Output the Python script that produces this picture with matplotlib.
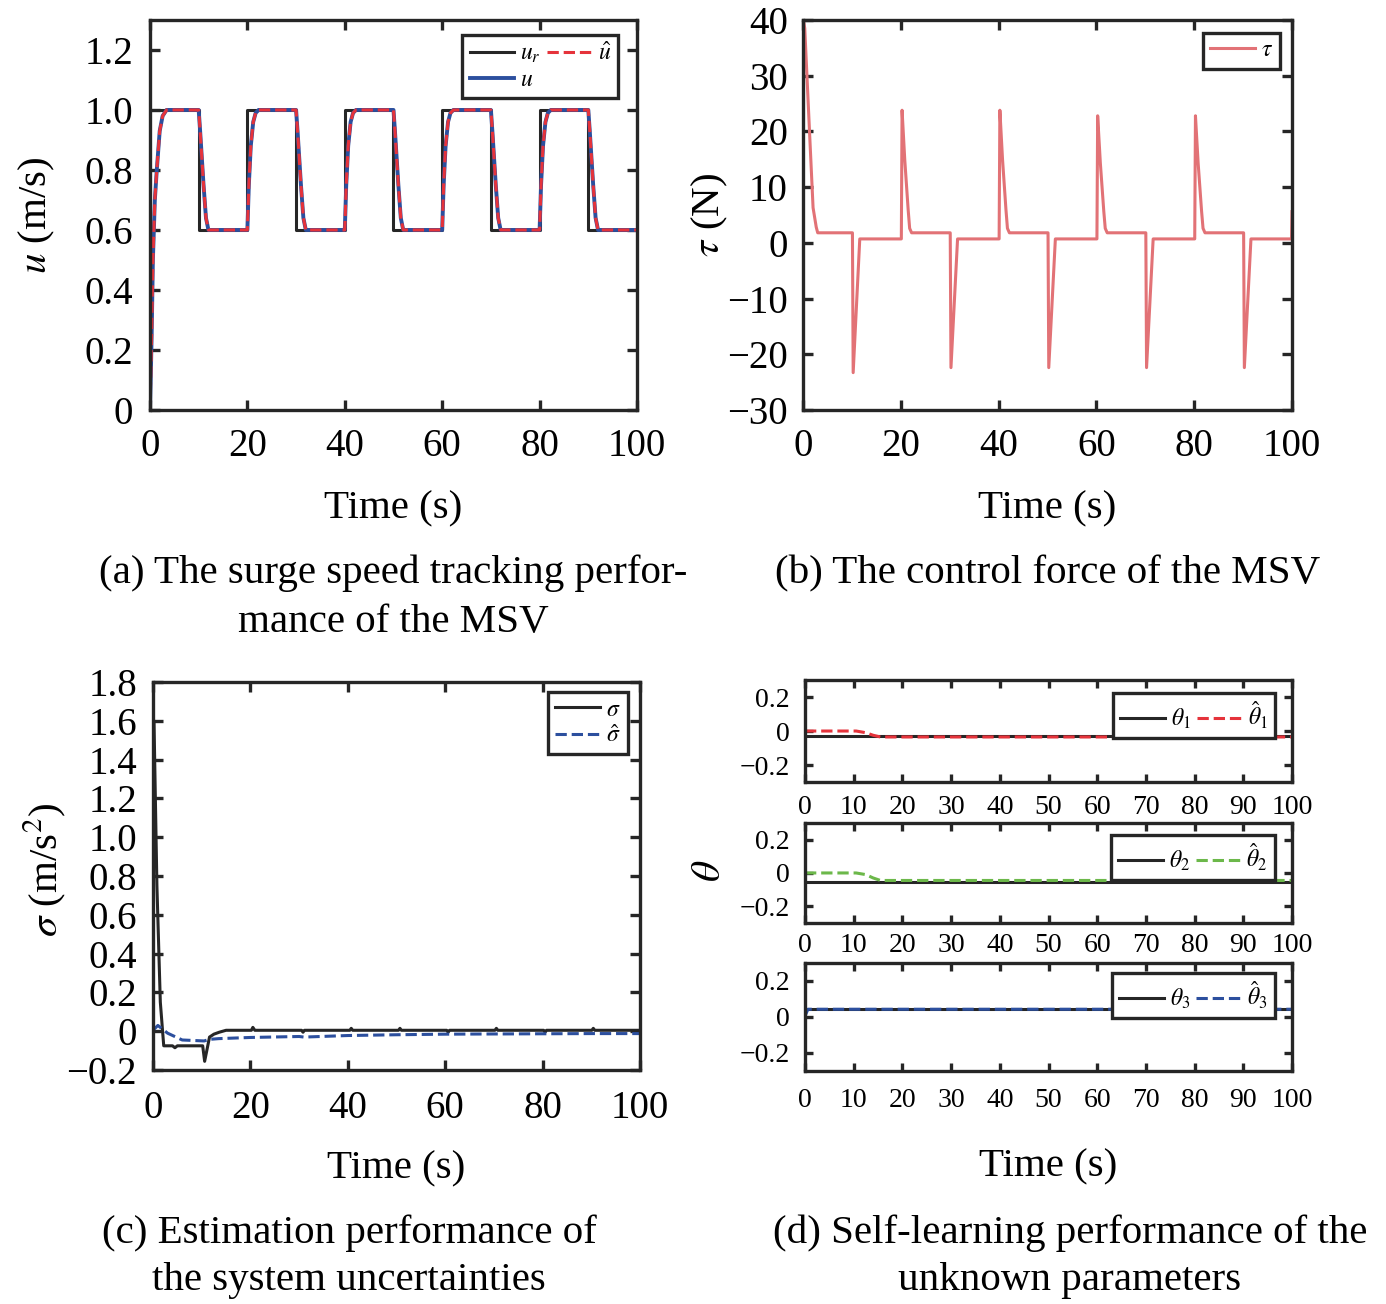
import matplotlib
matplotlib.use('Agg')
import matplotlib.pyplot as plt
from matplotlib.ticker import FuncFormatter, MultipleLocator

plt.rcParams['font.family'] = ['Liberation Serif', 'DejaVu Serif']
plt.rcParams['mathtext.fontset'] = 'stix'

BLACK = '#262626'
BLUE = '#2c4f9e'
RED = '#e5333b'
PINK = '#e27276'
GREEN = '#6cb84a'

# (a) surge speed
t_ur = [0, 10, 10, 20, 20, 30, 30, 40, 40, 50, 50, 60, 60, 70, 70, 80, 80, 90, 90, 100]
u_ref = [1.0, 1.0, 0.6, 0.6, 1.0, 1.0, 0.6, 0.6, 1.0, 1.0,
         0.6, 0.6, 1.0, 1.0, 0.6, 0.6, 1.0, 1.0, 0.6, 0.6]
t_u = [0, 0.15, 0.35, 0.6, 1.0, 1.4, 2.0, 2.6, 3.4,
       10.0, 10.3, 11.0, 11.5, 12.0,
       20.0, 20.3, 20.7, 21.2, 21.7, 22.3,
       30.0, 30.3, 31.0, 31.5, 32.0,
       40.0, 40.3, 40.7, 41.2, 41.7, 42.3,
       50.0, 50.3, 51.0, 51.5, 52.0,
       60.0, 60.3, 60.7, 61.2, 61.7, 62.3,
       70.0, 70.3, 71.0, 71.5, 72.0,
       80.0, 80.3, 80.7, 81.2, 81.7, 82.3,
       90.0, 90.3, 91.0, 91.5, 92.0, 100.0]
u_val = [0, 0.1, 0.25, 0.5, 0.7, 0.8, 0.93, 0.98, 1.0,
         1.0, 0.93, 0.75, 0.64, 0.6,
         0.6, 0.75, 0.88, 0.96, 0.99, 1.0,
         1.0, 0.93, 0.75, 0.64, 0.6,
         0.6, 0.75, 0.88, 0.96, 0.99, 1.0,
         1.0, 0.93, 0.75, 0.64, 0.6,
         0.6, 0.75, 0.88, 0.96, 0.99, 1.0,
         1.0, 0.93, 0.75, 0.64, 0.6,
         0.6, 0.75, 0.88, 0.96, 0.99, 1.0,
         1.0, 0.93, 0.75, 0.64, 0.6, 0.6]
u_hat = list(u_val)

# (b) control force
t_tau = [0, 0.05, 0.35, 1.4, 2.05, 2.7, 3.0,
         10.1, 10.25, 11.6,
         20.1, 20.25, 20.8, 21.5, 21.8, 22.2,
         30.1, 30.25, 31.6,
         40.1, 40.25, 40.8, 41.5, 41.8, 42.2,
         50.1, 50.25, 51.6,
         60.1, 60.25, 60.8, 61.5, 61.8, 62.2,
         70.1, 70.25, 71.6,
         80.1, 80.25, 80.8, 81.5, 81.8, 82.2,
         90.1, 90.25, 91.6,
         99.9, 100.0]
tau = [0, 40, 38.5, 18.5, 6.3, 2.8, 1.8,
       1.8, -23.3, 0.7,
       0.7, 23.8, 14.9, 5.9, 2.6, 1.8,
       1.8, -22.4, 0.7,
       0.7, 23.8, 14.9, 5.9, 2.6, 1.8,
       1.8, -22.4, 0.7,
       0.7, 22.8, 14.3, 5.7, 2.6, 1.8,
       1.8, -22.4, 0.7,
       0.7, 22.8, 14.3, 5.7, 2.6, 1.8,
       1.8, -22.4, 0.7,
       0.7, 5.6]

# (c) uncertainties
t_sig = [0, 0.2, 0.8, 1.5, 2.2, 4.0, 4.5, 5.0, 10.2, 10.6, 11.6, 12.5, 13.6, 15.0,
         20.2, 20.5, 20.9, 30.5, 30.8, 31.1, 40.4, 40.7, 41.0, 50.4, 50.7, 51.0,
         60.3, 60.6, 60.9, 70.2, 70.5, 70.8, 80.2, 80.5, 80.8, 90.1, 90.4, 90.7, 100]
sigma = [0, 1.6, 0.75, 0.15, -0.075, -0.075, -0.085, -0.075, -0.075, -0.155, -0.03, -0.015, -0.005, 0.005,
         0.005, 0.02, 0.005, 0.005, -0.005, 0.005, 0.005, 0.015, 0.005, 0.005, 0.015, 0.005,
         0.005, -0.005, 0.005, 0.005, 0.015, 0.005, 0.005, -0.005, 0.005, 0.005, 0.015, 0.005, 0.005]
t_sh = [0, 1.0, 3.0, 6.0, 10.5, 11.5, 13.5, 20, 30, 31, 40, 50, 60, 70, 80, 90, 100]
sigma_hat = [0.005, 0.03, -0.01, -0.045, -0.05, -0.042, -0.038, -0.032, -0.027, -0.03,
             -0.022, -0.018, -0.015, -0.014, -0.013, -0.012, -0.012]

# (d) unknown parameters
t_th = [0, 100]
theta1 = [-0.03, -0.03]
theta2 = [-0.055, -0.055]
theta3 = [0.043, 0.043]
t_th_hat = [0, 10.5, 12.5, 14.0, 15.5, 100]
theta1_hat = [0.0, 0.0, -0.01, -0.025, -0.035, -0.035]
theta2_hat = [0.0, 0.0, -0.01, -0.03, -0.045, -0.045]
t_th3_hat = [0, 0.6, 100]
theta3_hat = [0.005, 0.043, 0.043]

BIG = 28
LAB = 29.5
SMALL = 20
LEG = 17
LW = 2.2
SPINE = 2.4


def fmt(v, _):
    if abs(v) < 1e-9:
        return '0'
    return f'{v:.1f}'.replace('-', '\u2212')


def fmt_int(v, _):
    return f'{v:.0f}'.replace('-', '\u2212')


def style(ax, size, length, xpad, ypad):
    for s in ax.spines.values():
        s.set_linewidth(SPINE)
        s.set_color(BLACK)
    ax.tick_params(direction='in', top=True, right=True, length=length,
                   width=SPINE, color=BLACK, labelsize=size)
    ax.tick_params(axis='x', pad=xpad)
    ax.tick_params(axis='y', pad=ypad)
    ax.set_xlim(0, 100)


def legend(ax, anchor, ncol=1):
    lg = ax.legend(loc='upper right', bbox_to_anchor=anchor, ncol=ncol,
                   fontsize=LEG, fancybox=False, framealpha=1, edgecolor=BLACK,
                   handlelength=1.9, handletextpad=0.25, columnspacing=0.25,
                   borderpad=0.3, labelspacing=0.2, borderaxespad=0)
    lg.get_frame().set_linewidth(SPINE)
    return lg


fig = plt.figure(figsize=(13.86, 13.04), dpi=100)

# (a)
ax = fig.add_axes([0.1082, 0.6856, 0.3514, 0.2991])
ax.plot(t_ur, u_ref, color=BLACK, lw=LW, label='$u_r$')
ax.plot(t_u, u_val, color=BLUE, lw=LW + 0.6, label='$u$')
ax.plot(t_u, u_hat, color=RED, lw=LW, ls='--', label=r'$\hat{u}$')
style(ax, BIG, 7, 13, 12)
ax.set_ylim(0, 1.3)
ax.xaxis.set_major_locator(MultipleLocator(20))
ax.yaxis.set_major_locator(MultipleLocator(0.2))
ax.yaxis.set_major_formatter(FuncFormatter(fmt))
ax.set_ylabel('$u$ (m/s)', fontsize=LAB)
ax.yaxis.set_label_coords(-0.191, 0.5)
ax.set_xlabel('Time (s)', fontsize=LAB, va='baseline')
ax.xaxis.set_label_coords(0.5, -0.279)
legend(ax, (0.961, 0.962), ncol=2)

# (b)
ax = fig.add_axes([0.5794, 0.6856, 0.3528, 0.2991])
ax.plot(t_tau, tau, color=PINK, lw=LW, label=r'$\tau$')
style(ax, BIG, 7, 13, 11)
ax.set_ylim(-30, 40)
ax.xaxis.set_major_locator(MultipleLocator(20))
ax.yaxis.set_major_locator(MultipleLocator(10))
ax.yaxis.set_major_formatter(FuncFormatter(fmt_int))
ax.set_ylabel(r'$\tau$ (N)', fontsize=LAB)
ax.yaxis.set_label_coords(-0.149, 0.5)
ax.set_xlabel('Time (s)', fontsize=LAB, va='baseline')
ax.xaxis.set_label_coords(0.5, -0.279)
legend(ax, (0.975, 0.967))

# (c)
ax = fig.add_axes([0.1104, 0.1794, 0.3514, 0.2976])
ax.plot(t_sig, sigma, color=BLACK, lw=LW, label=r'$\sigma$')
ax.plot(t_sh, sigma_hat, color=BLUE, lw=LW, ls='--', label=r'$\hat{\sigma}$')
style(ax, BIG, 7, 14, 11.5)
ax.set_ylim(-0.2, 1.8)
ax.xaxis.set_major_locator(MultipleLocator(20))
ax.yaxis.set_major_locator(MultipleLocator(0.2))
ax.yaxis.set_major_formatter(FuncFormatter(fmt))
ax.set_ylabel(r'$\sigma$ (m/s$^2$)', fontsize=LAB)
ax.yaxis.set_label_coords(-0.175, 0.515)
ax.set_xlabel('Time (s)', fontsize=LAB, va='baseline')
ax.xaxis.set_label_coords(0.5, -0.278)
legend(ax, (0.975, 0.974))

# (d)
boxes = [[0.5808, 0.4003, 0.3514, 0.0782],
         [0.5808, 0.2922, 0.3514, 0.0767],
         [0.5808, 0.1787, 0.3514, 0.0828]]
series = [(t_th_hat, theta1, theta1_hat, RED, 1, 9.4, 0.873),
          (t_th_hat, theta2, theta2_hat, GREEN, 2, 7.2, 0.88),
          (t_th3_hat, theta3, theta3_hat, BLUE, 3, 12.2, 0.907)]
axes_d = []
for box, (th, true, est, col, k, xpad, ly) in zip(boxes, series):
    ax = fig.add_axes(box)
    ax.plot(t_th, true, color=BLACK, lw=LW, label=rf'$\theta_{k}$')
    ax.plot(th, est, color=col, lw=LW, ls='--', label=rf'$\hat{{\theta}}_{k}$')
    style(ax, SMALL, 5.5, xpad, 11)
    ax.set_ylim(-0.3, 0.3)
    ax.xaxis.set_major_locator(MultipleLocator(10))
    ax.set_yticks([-0.2, 0, 0.2])
    ax.yaxis.set_major_formatter(FuncFormatter(fmt))
    legend(ax, (0.965, ly), ncol=2)
    axes_d.append(ax)
axes_d[1].set_ylabel(r'$\theta$', fontsize=LAB)
axes_d[1].yaxis.set_label_coords(-0.155, 0.52)
axes_d[2].set_xlabel('Time (s)', fontsize=LAB, va='baseline')
axes_d[2].xaxis.set_label_coords(0.5, -0.981)

# captions
fig.text(0.2835, 0.5529, '(a) The surge speed tracking perfor-', fontsize=LAB, ha='center', va='baseline')
fig.text(0.2835, 0.5153, 'mance of the MSV', fontsize=LAB, ha='center', va='baseline')
fig.text(0.7561, 0.5529, '(b) The control force of the MSV', fontsize=LAB, ha='center', va='baseline')
fig.text(0.2518, 0.0468, '(c) Estimation performance of', fontsize=LAB, ha='center', va='baseline')
fig.text(0.2518, 0.0107, 'the system uncertainties', fontsize=LAB, ha='center', va='baseline')
fig.text(0.772, 0.0468, '(d) Self-learning performance of the', fontsize=LAB, ha='center', va='baseline')
fig.text(0.772, 0.0107, 'unknown parameters', fontsize=LAB, ha='center', va='baseline')

fig.savefig('out.png', dpi=100)
